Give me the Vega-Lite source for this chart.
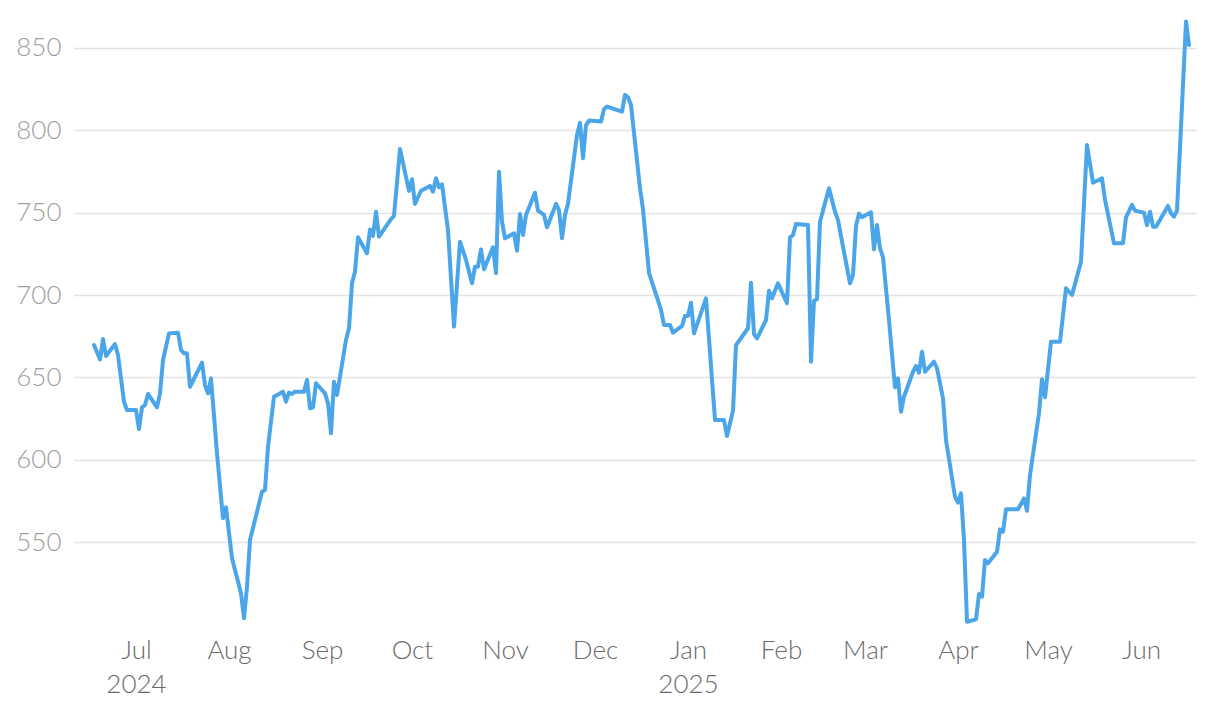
{
  "$schema": "https://vega.github.io/schema/vega-lite/v6.json",
  "width": 1122,
  "height": 616,
  "autosize": {"type": "none"},
  "padding": {"left": 74, "top": 15, "right": 24, "bottom": 81},
  "background": "#ffffff",
  "config": {
    "view": {"stroke": null},
    "font": "Lato"
  },
  "data": {
    "values": [
      {"date": "2024-06-17", "price": 669.6},
      {"date": "2024-06-19", "price": 660.9},
      {"date": "2024-06-20", "price": 673.3},
      {"date": "2024-06-21", "price": 663.0},
      {"date": "2024-06-24", "price": 670.2},
      {"date": "2024-06-25", "price": 663.6},
      {"date": "2024-06-27", "price": 635.2},
      {"date": "2024-06-28", "price": 630.2},
      {"date": "2024-07-01", "price": 630.2},
      {"date": "2024-07-02", "price": 618.6},
      {"date": "2024-07-03", "price": 631.8},
      {"date": "2024-07-04", "price": 633.2},
      {"date": "2024-07-05", "price": 639.9},
      {"date": "2024-07-08", "price": 631.8},
      {"date": "2024-07-09", "price": 640.3},
      {"date": "2024-07-10", "price": 660.5},
      {"date": "2024-07-12", "price": 676.7},
      {"date": "2024-07-15", "price": 677.1},
      {"date": "2024-07-16", "price": 666.6},
      {"date": "2024-07-17", "price": 664.6},
      {"date": "2024-07-18", "price": 664.6},
      {"date": "2024-07-19", "price": 644.3},
      {"date": "2024-07-23", "price": 658.9},
      {"date": "2024-07-24", "price": 645.3},
      {"date": "2024-07-25", "price": 640.3},
      {"date": "2024-07-26", "price": 649.4},
      {"date": "2024-07-28", "price": 603.9},
      {"date": "2024-07-30", "price": 564.4},
      {"date": "2024-07-31", "price": 571.1},
      {"date": "2024-08-02", "price": 540.1},
      {"date": "2024-08-05", "price": 518.9},
      {"date": "2024-08-06", "price": 503.7},
      {"date": "2024-08-07", "price": 522.9},
      {"date": "2024-08-08", "price": 551.2},
      {"date": "2024-08-12", "price": 580.6},
      {"date": "2024-08-13", "price": 581.6},
      {"date": "2024-08-14", "price": 607.9},
      {"date": "2024-08-16", "price": 638.2},
      {"date": "2024-08-19", "price": 641.3},
      {"date": "2024-08-20", "price": 635.2},
      {"date": "2024-08-21", "price": 640.7},
      {"date": "2024-08-22", "price": 639.9},
      {"date": "2024-08-23", "price": 641.3},
      {"date": "2024-08-26", "price": 641.3},
      {"date": "2024-08-27", "price": 648.4},
      {"date": "2024-08-28", "price": 631.2},
      {"date": "2024-08-29", "price": 631.8},
      {"date": "2024-08-30", "price": 646.4},
      {"date": "2024-09-02", "price": 640.3},
      {"date": "2024-09-03", "price": 634.2},
      {"date": "2024-09-04", "price": 616.0},
      {"date": "2024-09-05", "price": 647.4},
      {"date": "2024-09-06", "price": 639.3},
      {"date": "2024-09-09", "price": 672.7},
      {"date": "2024-09-10", "price": 679.8},
      {"date": "2024-09-11", "price": 707.1},
      {"date": "2024-09-12", "price": 714.2},
      {"date": "2024-09-13", "price": 735.0},
      {"date": "2024-09-16", "price": 725.3},
      {"date": "2024-09-17", "price": 739.8},
      {"date": "2024-09-18", "price": 735.8},
      {"date": "2024-09-19", "price": 750.6},
      {"date": "2024-09-20", "price": 735.4},
      {"date": "2024-09-24", "price": 746.0},
      {"date": "2024-09-25", "price": 748.0},
      {"date": "2024-09-27", "price": 788.7},
      {"date": "2024-09-30", "price": 763.2},
      {"date": "2024-10-01", "price": 770.3},
      {"date": "2024-10-02", "price": 755.3},
      {"date": "2024-10-04", "price": 763.3},
      {"date": "2024-10-07", "price": 766.2},
      {"date": "2024-10-08", "price": 762.7},
      {"date": "2024-10-09", "price": 770.9},
      {"date": "2024-10-10", "price": 765.4},
      {"date": "2024-10-11", "price": 767.2},
      {"date": "2024-10-13", "price": 739.5},
      {"date": "2024-10-15", "price": 680.8},
      {"date": "2024-10-17", "price": 732.4},
      {"date": "2024-10-19", "price": 721.3},
      {"date": "2024-10-21", "price": 707.1},
      {"date": "2024-10-22", "price": 717.2},
      {"date": "2024-10-23", "price": 717.2},
      {"date": "2024-10-24", "price": 727.7},
      {"date": "2024-10-25", "price": 715.6},
      {"date": "2024-10-28", "price": 729.0},
      {"date": "2024-10-29", "price": 713.2},
      {"date": "2024-10-30", "price": 774.9},
      {"date": "2024-10-31", "price": 744.5},
      {"date": "2024-11-01", "price": 734.4},
      {"date": "2024-11-04", "price": 737.5},
      {"date": "2024-11-05", "price": 726.9},
      {"date": "2024-11-06", "price": 749.2},
      {"date": "2024-11-07", "price": 736.4},
      {"date": "2024-11-08", "price": 748.6},
      {"date": "2024-11-11", "price": 762.1},
      {"date": "2024-11-12", "price": 751.2},
      {"date": "2024-11-14", "price": 748.6},
      {"date": "2024-11-15", "price": 741.1},
      {"date": "2024-11-18", "price": 755.3},
      {"date": "2024-11-19", "price": 751.6},
      {"date": "2024-11-20", "price": 734.4},
      {"date": "2024-11-21", "price": 748.6},
      {"date": "2024-11-22", "price": 755.5},
      {"date": "2024-11-25", "price": 797.2},
      {"date": "2024-11-26", "price": 804.6},
      {"date": "2024-11-27", "price": 783.0},
      {"date": "2024-11-28", "price": 803.2},
      {"date": "2024-11-29", "price": 805.9},
      {"date": "2024-12-03", "price": 805.3},
      {"date": "2024-12-04", "price": 812.8},
      {"date": "2024-12-05", "price": 814.4},
      {"date": "2024-12-10", "price": 811.3},
      {"date": "2024-12-11", "price": 821.5},
      {"date": "2024-12-12", "price": 820.0},
      {"date": "2024-12-13", "price": 815.4},
      {"date": "2024-12-16", "price": 764.8},
      {"date": "2024-12-17", "price": 752.0},
      {"date": "2024-12-19", "price": 713.5},
      {"date": "2024-12-23", "price": 690.9},
      {"date": "2024-12-24", "price": 681.8},
      {"date": "2024-12-26", "price": 681.8},
      {"date": "2024-12-27", "price": 677.1},
      {"date": "2024-12-30", "price": 681.2},
      {"date": "2024-12-31", "price": 687.3},
      {"date": "2025-01-01", "price": 687.3},
      {"date": "2025-01-02", "price": 695.3},
      {"date": "2025-01-03", "price": 676.7},
      {"date": "2025-01-07", "price": 698.0},
      {"date": "2025-01-10", "price": 624.1},
      {"date": "2025-01-13", "price": 624.1},
      {"date": "2025-01-14", "price": 614.4},
      {"date": "2025-01-16", "price": 629.7},
      {"date": "2025-01-17", "price": 669.6},
      {"date": "2025-01-21", "price": 679.8},
      {"date": "2025-01-22", "price": 707.5},
      {"date": "2025-01-23", "price": 676.3},
      {"date": "2025-01-24", "price": 673.7},
      {"date": "2025-01-27", "price": 684.8},
      {"date": "2025-01-28", "price": 702.6},
      {"date": "2025-01-29", "price": 698.0},
      {"date": "2025-01-31", "price": 707.1},
      {"date": "2025-02-03", "price": 695.0},
      {"date": "2025-02-04", "price": 735.0},
      {"date": "2025-02-05", "price": 736.4},
      {"date": "2025-02-06", "price": 743.1},
      {"date": "2025-02-10", "price": 742.5},
      {"date": "2025-02-11", "price": 659.5},
      {"date": "2025-02-12", "price": 696.5},
      {"date": "2025-02-13", "price": 697.4},
      {"date": "2025-02-14", "price": 744.5},
      {"date": "2025-02-17", "price": 764.8},
      {"date": "2025-02-19", "price": 750.6},
      {"date": "2025-02-20", "price": 745.5},
      {"date": "2025-02-21", "price": 735.8},
      {"date": "2025-02-24", "price": 707.1},
      {"date": "2025-02-25", "price": 712.2},
      {"date": "2025-02-26", "price": 742.0},
      {"date": "2025-02-27", "price": 749.4},
      {"date": "2025-02-28", "price": 747.2},
      {"date": "2025-03-03", "price": 750.2},
      {"date": "2025-03-04", "price": 727.7},
      {"date": "2025-03-05", "price": 742.5},
      {"date": "2025-03-06", "price": 728.4},
      {"date": "2025-03-07", "price": 722.9},
      {"date": "2025-03-09", "price": 684.8},
      {"date": "2025-03-11", "price": 643.9},
      {"date": "2025-03-12", "price": 649.4},
      {"date": "2025-03-13", "price": 629.1},
      {"date": "2025-03-14", "price": 638.2},
      {"date": "2025-03-17", "price": 653.4},
      {"date": "2025-03-18", "price": 656.9},
      {"date": "2025-03-19", "price": 652.8},
      {"date": "2025-03-20", "price": 665.6},
      {"date": "2025-03-21", "price": 653.4},
      {"date": "2025-03-24", "price": 659.5},
      {"date": "2025-03-25", "price": 655.5},
      {"date": "2025-03-27", "price": 637.3},
      {"date": "2025-03-28", "price": 611.9},
      {"date": "2025-03-31", "price": 577.5},
      {"date": "2025-04-01", "price": 573.9},
      {"date": "2025-04-02", "price": 579.6},
      {"date": "2025-04-03", "price": 551.2},
      {"date": "2025-04-04", "price": 501.6},
      {"date": "2025-04-07", "price": 503.1},
      {"date": "2025-04-08", "price": 518.4},
      {"date": "2025-04-09", "price": 516.8},
      {"date": "2025-04-10", "price": 539.1},
      {"date": "2025-04-11", "price": 537.1},
      {"date": "2025-04-14", "price": 544.1},
      {"date": "2025-04-15", "price": 557.7},
      {"date": "2025-04-16", "price": 556.3},
      {"date": "2025-04-17", "price": 569.9},
      {"date": "2025-04-21", "price": 569.9},
      {"date": "2025-04-23", "price": 576.5},
      {"date": "2025-04-24", "price": 569.0},
      {"date": "2025-04-25", "price": 590.7},
      {"date": "2025-04-28", "price": 628.2},
      {"date": "2025-04-29", "price": 648.8},
      {"date": "2025-04-30", "price": 637.9},
      {"date": "2025-05-02", "price": 671.6},
      {"date": "2025-05-05", "price": 671.6},
      {"date": "2025-05-07", "price": 704.1},
      {"date": "2025-05-09", "price": 700.0},
      {"date": "2025-05-12", "price": 720.2},
      {"date": "2025-05-14", "price": 791.1},
      {"date": "2025-05-16", "price": 768.2},
      {"date": "2025-05-19", "price": 770.9},
      {"date": "2025-05-20", "price": 757.7},
      {"date": "2025-05-23", "price": 731.4},
      {"date": "2025-05-26", "price": 731.4},
      {"date": "2025-05-27", "price": 747.2},
      {"date": "2025-05-29", "price": 754.7},
      {"date": "2025-05-30", "price": 751.2},
      {"date": "2025-06-02", "price": 750.0},
      {"date": "2025-06-03", "price": 742.5},
      {"date": "2025-06-04", "price": 750.6},
      {"date": "2025-06-05", "price": 741.5},
      {"date": "2025-06-06", "price": 741.5},
      {"date": "2025-06-10", "price": 754.1},
      {"date": "2025-06-11", "price": 749.6},
      {"date": "2025-06-12", "price": 747.6},
      {"date": "2025-06-13", "price": 751.2},
      {"date": "2025-06-16", "price": 866.0},
      {"date": "2025-06-17", "price": 851.8}
    ]
  },
  "mark": {"type": "line", "color": "#4ba5e9", "strokeWidth": 4, "strokeJoin": "round", "strokeCap": "round"},
  "encoding": {
    "x": {
      "field": "date",
      "type": "temporal",
      "scale": {
        "type": "utc",
        "domain": [
          {"year": 2024, "month": 6, "date": 10, "hours": 8, "utc": true},
          {"year": 2025, "month": 6, "date": 19, "hours": 8, "utc": true}
        ]
      },
      "axis": {
        "title": null,
        "grid": false,
        "domain": false,
        "ticks": false,
        "tickCount": {"interval": "month", "step": 1},
        "labelExpr": "[utcFormat(datum.value, '%b'), (utcmonth(datum.value) == 0 || (utcmonth(datum.value) == 6 && utcyear(datum.value) == 2024)) ? utcFormat(datum.value, '%Y') : '']",
        "labelFont": "Lato",
        "labelFontWeight": 300,
        "labelFontSize": 26,
        "labelColor": "#6b6b6b",
        "labelPadding": 6,
        "labelLineHeight": 34,
        "labelOverlap": false,
        "labelBound": false,
        "labelFlush": false
      }
    },
    "y": {
      "field": "price",
      "type": "quantitative",
      "scale": {"domain": [496, 870], "nice": false, "zero": false},
      "axis": {
        "title": null,
        "values": [550, 600, 650, 700, 750, 800, 850],
        "grid": true,
        "gridColor": "#e3e3e3",
        "gridWidth": 1.5,
        "domain": false,
        "ticks": false,
        "labelFont": "Lato",
        "labelFontWeight": 300,
        "labelFontSize": 26,
        "labelColor": "#9e9e9e",
        "labelPadding": 13
      }
    }
  }
}
